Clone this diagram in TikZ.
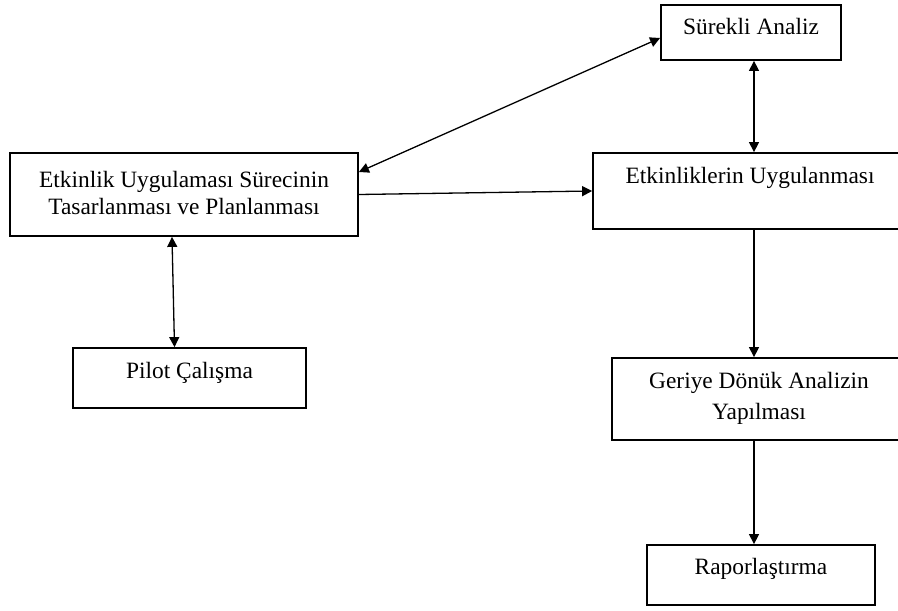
\documentclass[tikz,border=0pt]{standalone}
\usepackage{fontspec}
\setmainfont{Liberation Serif}
\usepackage{tikz}
\usetikzlibrary{arrows.meta}
\usetikzlibrary{positioning}
\tikzset{
    >={Triangle[length=5pt,width=5pt]},
    kutu/.style={draw=black, line width=0.9pt, align=center, inner xsep=0pt, inner ysep=0pt,
        anchor=base, font=\fontsize{11.7}{13.5}\selectfont},
    ok/.style={draw=black, line width=0.65pt},
}

\begin{document}
\begin{tikzpicture}[x=0.5pt,y=-0.5pt]
\useasboundingbox (0,0) rectangle (898,610);
\clip (0,0) rectangle (898,610);

% dikey oklarin hizasi
\coordinate (eksen) at (754,0);

\node[kutu, minimum width=90pt, text height=14.75pt, text depth=12.75pt] (surekli) at (751,34.5) {Sürekli Analiz};
\node[kutu, minimum width=174pt, text height=30.5pt, text depth=11pt] (etk) at (184,214) {Etkinlik Uygulaması Sürecinin\\Tasarlanması ve Planlanması};
\node[kutu, minimum width=157pt, text height=15pt, text depth=23pt] (etu) at (750,183) {Etkinliklerin Uygulanması};
\node[kutu, minimum width=116.5pt, text height=15pt, text depth=15pt] (pilot) at (189.5,378) {Pilot Çalışma};
\node[kutu, minimum width=147pt, text height=30.5pt, text depth=10.5pt, font=\fontsize{11.7}{15.5}\selectfont] (geriye) at (759,419) {Geriye Dönük Analizin\\Yapılması};
\node[kutu, minimum width=114pt, text height=14.5pt, text depth=15.5pt] (rapor) at (761,574) {Raporlaştırma};

\draw[ok,<->] ([yshift=11.25pt]etk.east) -- ([yshift=-2.75pt]surekli.west);
\draw[ok,->] (etk.east) -- (etu.west);
\draw[ok,<->] (surekli.south -| eksen) -- (etu.north -| eksen);
\draw[ok,<->] ([xshift=-6pt]etk.south) -- ([xshift=-7.5pt]pilot.north);
\draw[ok,->] (etu.south -| eksen) -- (geriye.north -| eksen);
\draw[ok,->] (geriye.south -| eksen) -- (rapor.north -| eksen);

\end{tikzpicture}
\end{document}
